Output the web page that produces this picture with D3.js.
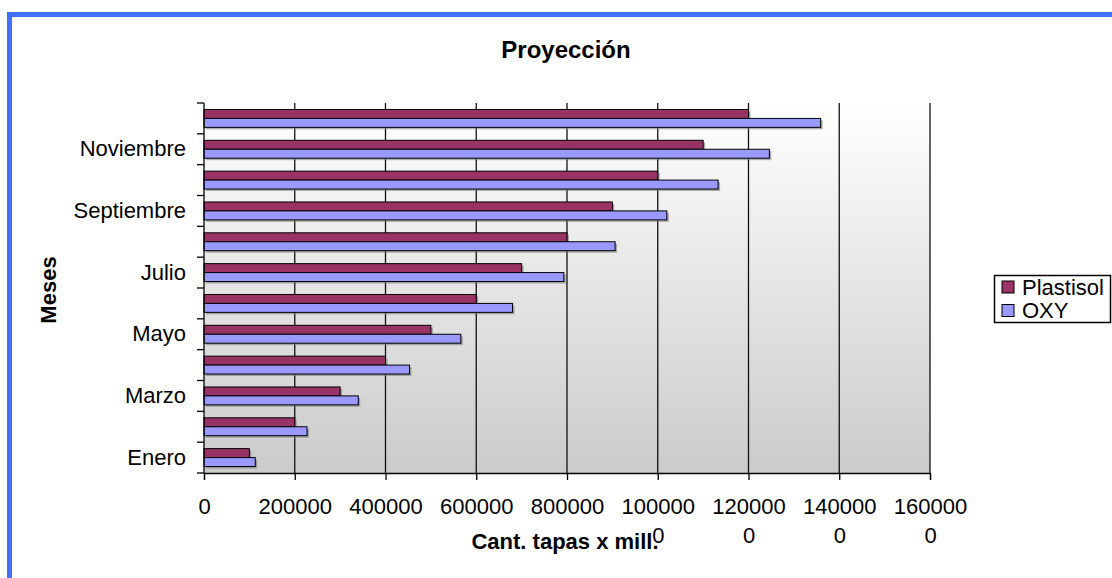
<!DOCTYPE html>
<html>
<head>
<meta charset="utf-8">
<script src="https://cdn.jsdelivr.net/npm/d3@7"></script>
<style>
  body { margin: 0; background: #fff; }
  text { font-family: "Liberation Sans", Arial, sans-serif; fill: #000; }
</style>
</head>
<body>
<div id="chart"></div>
<script>
'use strict';

// data
var months = ['Enero', 'Febrero', 'Marzo', 'Abril', 'Mayo', 'Junio', 'Julio',
  'Agosto', 'Septiembre', 'Octubre', 'Noviembre', 'Diciembre'];
var plastisol = [100000, 200000, 300000, 400000, 500000, 600000, 700000,
  800000, 900000, 1000000, 1100000, 1200000];
var oxy = [113000, 227000, 340000, 453000, 566000, 680000, 793000,
  906000, 1020000, 1133000, 1246000, 1359000];
var xTicks = [0, 200000, 400000, 600000, 800000, 1000000, 1200000, 1400000, 1600000];
var seriesNames = ['Plastisol', 'OXY'];
var seriesColors = ['#993366', '#9999ff'];

var scope = {
  margins: { left: 204, top: 103 },
  width: 726,
  height: 370
};

var svg = d3.select('#chart').append('svg')
  .attr('width', 1112)
  .attr('height', 578);

// blue frame
svg.append('rect')
  .attr('x', 9.5).attr('y', 14.5)
  .attr('width', 1200).attr('height', 700)
  .attr('fill', 'none')
  .attr('stroke', '#4272fb')
  .attr('stroke-width', 5);

var defs = svg.append('defs');
var grad = defs.append('linearGradient')
  .attr('id', 'bg').attr('x1', 0).attr('y1', 0).attr('x2', 0).attr('y2', 1);
grad.append('stop').attr('offset', '0%').attr('stop-color', '#ffffff');
grad.append('stop').attr('offset', '100%').attr('stop-color', '#cbcbcb');

var chart = svg.append('g')
  .attr('transform', 'translate(' + scope.margins.left + ',' + scope.margins.top + ')');

var x = d3.scaleLinear().domain([0, 1600000]).range([0, scope.width]);
var y = d3.scaleBand().domain(months).range([scope.height, 0])
  .paddingInner(0.42).paddingOuter(0.21);
var ySub = d3.scaleBand().domain(seriesNames).range([0, y.bandwidth()]);
var color = d3.scaleOrdinal().domain(seriesNames).range(seriesColors);

chart.append('rect')
  .attr('width', scope.width).attr('height', scope.height)
  .attr('fill', 'url(#bg)');

// vertical gridlines
chart.append('g').selectAll('line')
  .data(xTicks.slice(1))
  .enter().append('line')
  .attr('x1', function(d) { return x(d); })
  .attr('x2', function(d) { return x(d); })
  .attr('y1', 0).attr('y2', scope.height)
  .attr('stroke', '#111').attr('stroke-width', 1.3);

var rows = months.map(function(m, i) {
  return { month: m, values: [
    { key: 'Plastisol', value: plastisol[i] },
    { key: 'OXY', value: oxy[i] }
  ] };
});

var groups = chart.append('g').selectAll('g')
  .data(rows)
  .enter().append('g')
  .attr('transform', function(d) { return 'translate(0,' + y(d.month) + ')'; });

// shadows
groups.selectAll('rect.shadow')
  .data(function(d) { return d.values; })
  .enter().append('rect')
  .attr('class', 'shadow')
  .attr('x', 2)
  .attr('y', function(d) { return ySub(d.key) + 2; })
  .attr('width', function(d) { return x(d.value); })
  .attr('height', ySub.bandwidth())
  .attr('fill', '#7a7a7a')
  .attr('opacity', 0.6);

groups.selectAll('rect.bar')
  .data(function(d) { return d.values; })
  .enter().append('rect')
  .attr('class', 'bar')
  .attr('x', 0)
  .attr('y', function(d) { return ySub(d.key); })
  .attr('width', function(d) { return x(d.value); })
  .attr('height', ySub.bandwidth())
  .attr('fill', function(d) { return color(d.key); })
  .attr('stroke', '#000')
  .attr('stroke-width', 1);

// x axis
var xAxis = chart.append('g')
  .attr('transform', 'translate(0,' + scope.height + ')')
  .call(d3.axisBottom(x).tickValues(xTicks).tickSize(7).tickPadding(18)
    .tickFormat(function(d) { return String(d); }));
xAxis.select('.domain').attr('stroke', '#000').attr('stroke-width', 1.3);
xAxis.selectAll('.tick line').attr('stroke', '#000').attr('stroke-width', 1.3);
xAxis.selectAll('.tick text')
  .attr('font-size', 22)
  .attr('font-family', '"Liberation Sans", Arial, sans-serif')
  .each(function(d) {
    var s = String(d);
    if (s.length > 6) {
      var t = d3.select(this).text(null);
      t.append('tspan').attr('x', 0).text(s.slice(0, 6));
      t.append('tspan').attr('x', 0).attr('dy', 29).text(s.slice(6));
    }
  });

// y axis: labels on every other month, ticks at band edges
var yAxis = chart.append('g')
  .call(d3.axisLeft(y).tickSize(0).tickPadding(18)
    .tickValues(months.filter(function(m, i) { return i % 2 === 0; })));
yAxis.select('.domain').remove();
yAxis.selectAll('.tick text')
  .attr('font-size', 22)
  .attr('font-family', '"Liberation Sans", Arial, sans-serif');

var edges = d3.range(months.length + 1).map(function(i) {
  return scope.height - i * y.step();
});
chart.append('g').selectAll('line')
  .data(edges)
  .enter().append('line')
  .attr('x1', -7).attr('x2', 0)
  .attr('y1', function(d) { return d; })
  .attr('y2', function(d) { return d; })
  .attr('stroke', '#000').attr('stroke-width', 1.3);
chart.append('line')
  .attr('x1', 0).attr('x2', 0).attr('y1', 0).attr('y2', scope.height)
  .attr('stroke', '#000').attr('stroke-width', 1.3);

// titles
svg.append('text')
  .attr('x', 566).attr('y', 58)
  .attr('text-anchor', 'middle')
  .attr('font-size', 24).attr('font-weight', 'bold')
  .text('Proyección');

svg.append('text')
  .attr('x', 565).attr('y', 549)
  .attr('text-anchor', 'middle')
  .attr('font-size', 22).attr('font-weight', 'bold')
  .text('Cant. tapas x mill.');

svg.append('text')
  .attr('transform', 'translate(56,290) rotate(-90)')
  .attr('text-anchor', 'middle')
  .attr('font-size', 22).attr('font-weight', 'bold')
  .text('Meses');

// legend
var legend = svg.append('g');
legend.append('rect')
  .attr('x', 994.5).attr('y', 275.5)
  .attr('width', 116).attr('height', 47)
  .attr('fill', '#fff')
  .attr('stroke', '#000').attr('stroke-width', 1.5);

var items = legend.selectAll('g.item')
  .data(seriesNames)
  .enter().append('g')
  .attr('class', 'item')
  .attr('transform', function(d, i) { return 'translate(1002,' + (287 + i * 23.5) + ')'; });

items.append('rect')
  .attr('x', 0).attr('y', -6)
  .attr('width', 12).attr('height', 12)
  .attr('fill', function(d) { return color(d); })
  .attr('stroke', '#000').attr('stroke-width', 1);

items.append('text')
  .attr('x', 20).attr('y', 0).attr('dy', '0.35em')
  .attr('font-size', 22)
  .text(function(d) { return d; });
</script>
</body>
</html>
